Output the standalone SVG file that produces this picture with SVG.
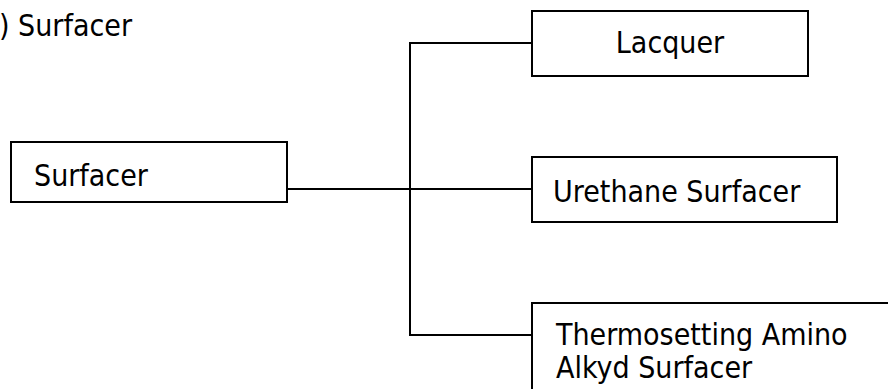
<svg xmlns="http://www.w3.org/2000/svg" width="888" height="389" viewBox="0 0 888 389">
  <style>
    .box { fill: #ffffff; stroke: #000000; stroke-width: 2; }
    .wire { fill: none; stroke: #000000; stroke-width: 2; }
    .lbl { font-family: "DejaVu Sans Condensed", "DejaVu Sans", sans-serif; font-stretch: condensed; font-size: 30px; fill: #000000; }
  </style>
  <rect width="888" height="389" fill="#ffffff"/>

  <text class="lbl" x="-1" y="36">) Surfacer</text>

  <g id="connectors">
    <polyline class="wire" points="287,189 532,189"/>
    <polyline class="wire" points="532,43 410,43 410,335 532,335"/>
  </g>

  <g id="surfacer">
    <rect class="box" x="11" y="142" width="276" height="60"/>
    <text class="lbl" x="34" y="186">Surfacer</text>
  </g>

  <g id="lacquer">
    <rect class="box" x="532" y="11" width="276" height="65"/>
    <text class="lbl" x="670" y="53" text-anchor="middle">Lacquer</text>
  </g>

  <g id="urethane-surfacer">
    <rect class="box" x="532" y="157" width="305" height="65"/>
    <text class="lbl" x="553" y="202">Urethane Surfacer</text>
  </g>

  <g id="thermosetting-amino-alkyd-surfacer">
    <rect class="box" x="532" y="303" width="380" height="120"/>
    <text class="lbl" x="556" y="345">Thermosetting Amino</text>
    <text class="lbl" x="556" y="378">Alkyd Surfacer</text>
  </g>
</svg>
